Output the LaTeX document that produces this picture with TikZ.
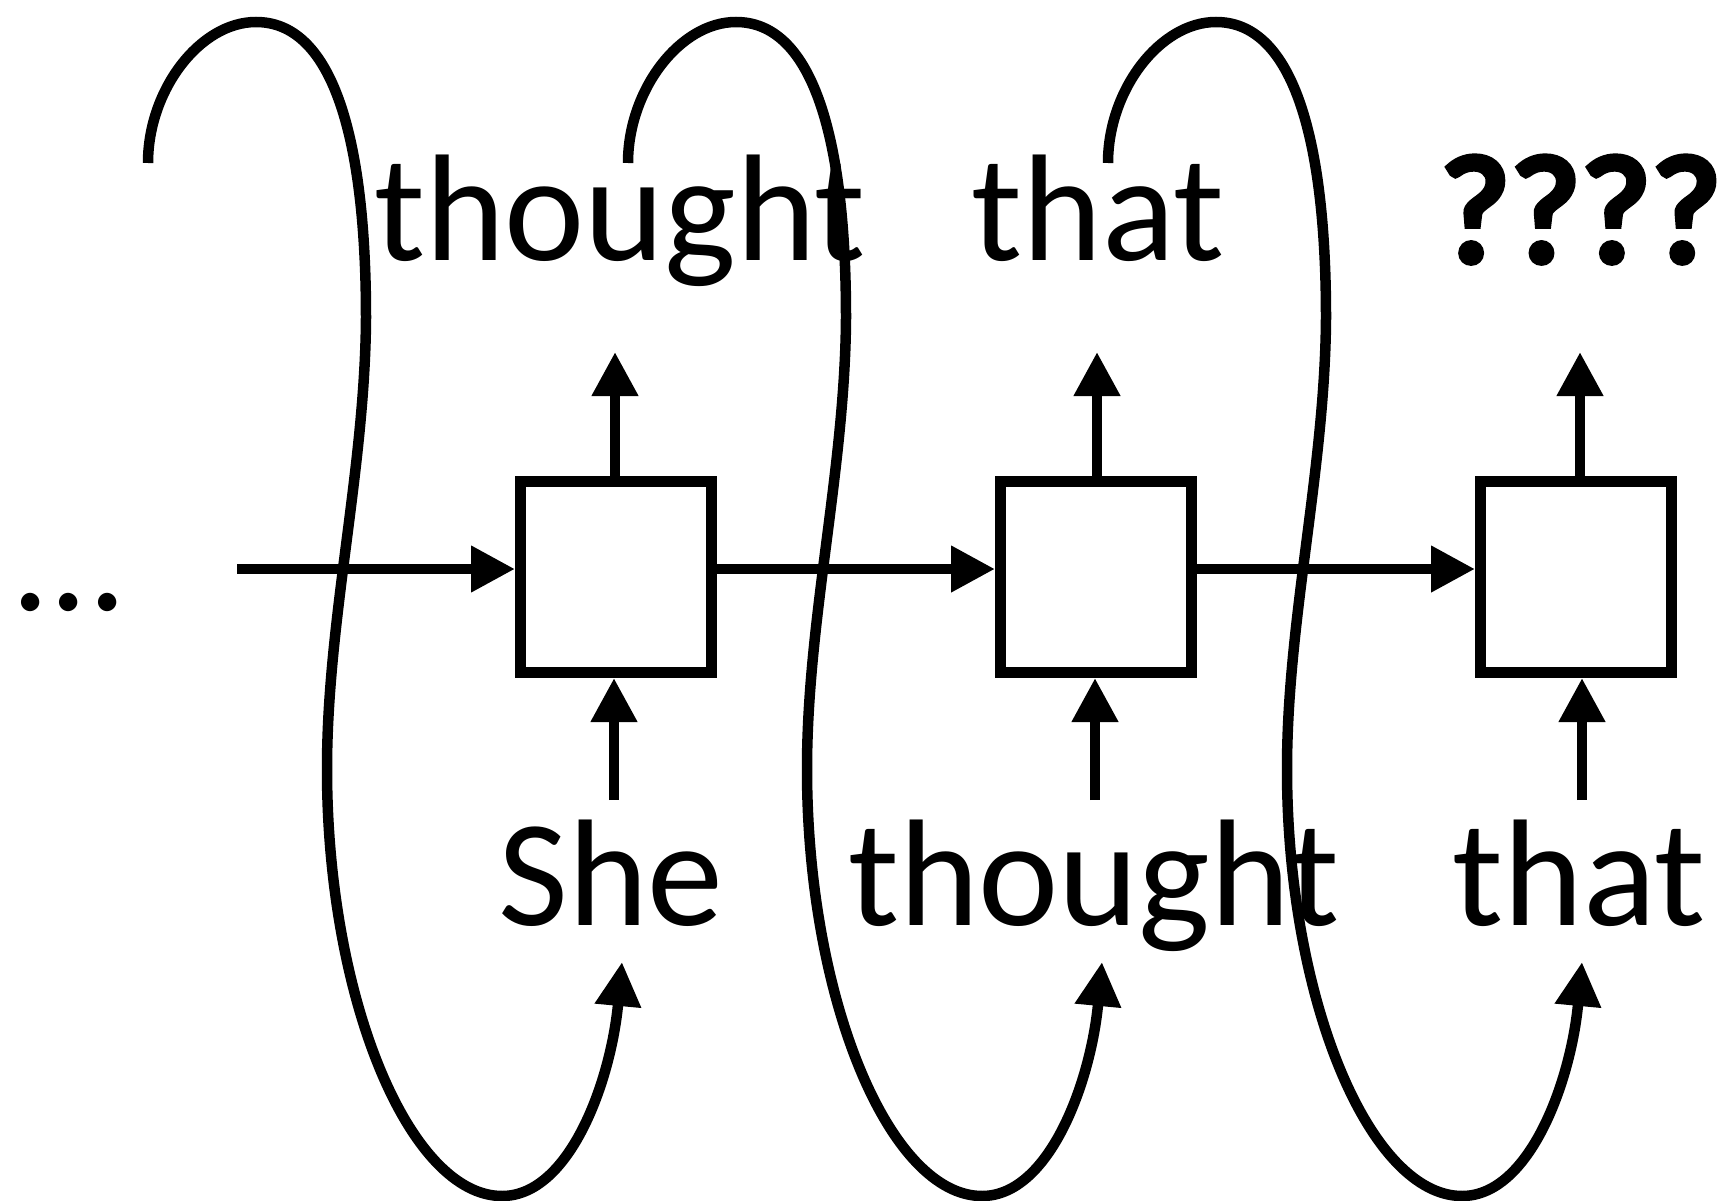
\documentclass[tikz,border=0pt]{standalone}
\usepackage{fontspec}
\setmainfont{Carlito}
\newfontfamily\heavyfont{Carlito}[FakeBold=5]
\usetikzlibrary{arrows.meta}
\begin{document}
\begin{tikzpicture}[x=1pt,y=-1pt,
  cell/.style={draw, line width=11pt, minimum size=191pt, inner sep=0pt, outer sep=5.5pt},
  word/.style={anchor=base, inner sep=0pt, font=\fontsize{152}{180}\selectfont},
  flow/.style={line width=10.5pt, -{Triangle[length=44pt,width=44pt]}},
  feed/.style={line width=10.5pt, -{Triangle[length=44pt,width=44pt]}}]
\useasboundingbox (0,0) rectangle (1722,1201);

% recurrent cells
\node[cell] (b1) at (616,577) {};
\node[cell] (b2) at (1096,577) {};
\node[cell] (b3) at (1576,577) {};

% words fed in and words predicted
\node[word] (i1) at (611,925) {She};
\node[word] (i2) at (1094,925) {thought};
\node[word] (i3) at (1579,925) {that};
\node[word] (o1) at (620,261) {thought};
\node[word] (o2) at (1098,261) {that};
\node[word] (o3) at (1581,261) {\heavyfont ????};
\node[word] (dots) at (69,610) {...};

% hidden state carried from cell to cell
\coordinate (h0) at (237,569);
\draw[flow] (h0) -- (h0 -| b1.west);
\draw[flow] (b1.east |- h0) -- (b2.west |- h0);
\draw[flow] (b2.east |- h0) -- (b3.west |- h0);

% outputs
\coordinate (t1) at (615,352);
\coordinate (t2) at (1097,352);
\coordinate (t3) at (1580,352);
\draw[flow] (t1 |- b1.north) -- (t1);
\draw[flow] (t2 |- b2.north) -- (t2);
\draw[flow] (t3 |- b3.north) -- (t3);

% inputs
\coordinate (u1) at (614,800);
\coordinate (u2) at (1095,800);
\coordinate (u3) at (1582,800);
\draw[flow] (u1) -- (u1 |- b1.south);
\draw[flow] (u2) -- (u2 |- b2.south);
\draw[flow] (u3) -- (u3 |- b3.south);

% each prediction loops back as the next input
\foreach \k in {0,1,2} {
  \begin{scope}[xshift=\k*480pt]
    \coordinate (fb\k) at (148,163);
    \coordinate (ft\k) at (622,962);
    \draw[feed] (fb\k) .. controls (148,90) and (200,22) .. (256,22)
      .. controls (330,22) and (366,130) .. (366,318)
      .. controls (365,470) and (327,620) .. (327,769)
      .. controls (327,1000) and (410,1196) .. (502,1196)
      .. controls (570,1196) and (611,1080) .. (ft\k);
  \end{scope}
}
\end{tikzpicture}
\end{document}
